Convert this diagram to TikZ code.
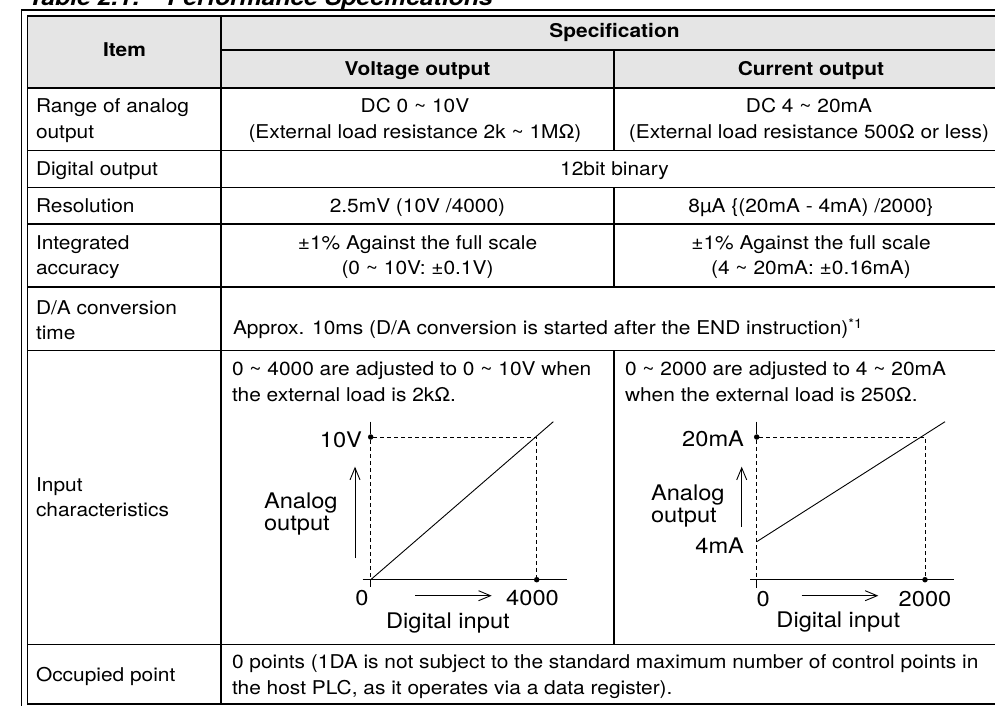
\documentclass[tikz,border=0pt]{standalone}
\usepackage{fontspec}
\setmainfont{TeX Gyre Heros}[FakeStretch=1.1]
\usetikzlibrary{arrows.meta}
\definecolor{headgray}{gray}{0.9}
\begin{document}
\begin{tikzpicture}[x=1pt,y=-1pt,inner sep=0pt,outer sep=0pt,
rule/.style={line width=1.6pt},
frame/.style={line width=1.3pt},
cell/.style={font=\fontsize{19}{25.5}\selectfont,align=center,anchor=base},
itemcell/.style={font=\fontsize{19}{25.5}\selectfont,align=left,anchor=base west},
headcell/.style={font=\fontsize{19}{25.5}\selectfont\bfseries,anchor=base},
plotlabel/.style={font=\fontsize{21.5}{22}\selectfont},
axis/.style={line width=0.9pt},
guide/.style={line width=0.9pt,dash pattern=on 4pt off 3pt},
tick/.style={circle,fill,minimum size=5.5pt},
flow/.style={line width=0.9pt,-{Straight Barb[length=12pt,width=10pt]}}]
\clip (0,0) rectangle (995,705);
\fill[headgray] (27.5,16) rectangle (1007,88);
\draw[frame] (21.5,720) -- (21.5,10) -- (1013,10);
\draw[rule] (27.5,705) -- (27.5,16) -- (1007,16);
\draw[rule] (221,50) -- (1007,50);
\draw[rule] (27.5,88) -- (1007,88);
\draw[rule] (27.5,150.5) -- (1007,150.5);
\draw[rule] (27.5,187.5) -- (1007,187.5);
\draw[rule] (27.5,224) -- (1007,224);
\draw[rule] (27.5,287) -- (1007,287);
\draw[rule] (27.5,350.5) -- (1007,350.5);
\draw[rule] (27.5,644.5) -- (1007,644.5);
\draw[rule] (27.5,704) -- (1007,704);
\draw[rule] (221,16) -- (221,704);
\draw[rule] (614,50) -- (614,150.5);
\draw[rule] (614,187.5) -- (614,287);
\draw[rule] (614,350.5) -- (614,644.5);
\node[anchor=base west,font=\fontsize{22.5}{24}\selectfont\bfseries\itshape] (title) at (28,5) {Table 2.1:\hspace{27pt}Performance Specifications};
\node[headcell] (item) at (124.5,56.7) {Item};
\node[headcell] (spec) at (614.5,37.3) {Specification};
\node[headcell] (volt) at (417.5,75) {Voltage output};
\node[headcell] (curr) at (811,75) {Current output};
\node[itemcell] (range) at (36,138.2) {Range of analog\\output};
\node[cell] (rangev) at (415,138.2) {DC 0 \textasciitilde{} 10V\\(External load resistance 2k \textasciitilde{} 1MΩ)};
\node[cell] (rangec) at (809,138.2) {DC 4 \textasciitilde{} 20mA\\(External load resistance 500Ω or less)};
\node[itemcell] (digout) at (36,175.8) {Digital output};
\node[cell] (digoutv) at (614.5,175.8) {12bit binary};
\node[itemcell] (resol) at (36,212.6) {Resolution};
\node[cell] (resolv) at (417.5,212.6) {2.5mV (10V /4000)};
\node[cell] (resolc) at (811,212.6) {8µA \{(20mA - 4mA) /2000\}};
\node[itemcell] (accur) at (36,274.7) {Integrated\\accuracy};
\node[cell] (accurv) at (417.5,274.7) {±1\% Against the full scale\\(0 \textasciitilde{} 10V: ±0.1V)};
\node[cell] (accurc) at (811,274.7) {±1\% Against the full scale\\(4 \textasciitilde{} 20mA: ±0.16mA)};
\node[itemcell] (conv) at (36,339.5) {D/A conversion\\time};
\node[itemcell] (convv) at (233,334.5) {Approx. 10ms (D/A conversion is started after the END instruction)\textsuperscript{*1}};
\node[itemcell] (inchar) at (36,516.8) {Input\\characteristics};
\node[itemcell] (incharv) at (232,401.4) {0 \textasciitilde{} 4000 are adjusted to 0 \textasciitilde{} 10V when\\the external load is 2kΩ.};
\node[itemcell] (incharc) at (625,401.4) {0 \textasciitilde{} 2000 are adjusted to 4 \textasciitilde{} 20mA\\when the external load is 250Ω.};
\node[itemcell] (occup) at (36,681) {Occupied point};
\node[itemcell] (occupv) at (232,694) {0 points (1DA is not subject to the standard maximum number of control points in\\the host PLC, as it operates via a data register).};
\coordinate (o1) at (370.7,579.7);
\coordinate (ytop1) at (370.7,421.7);
\coordinate (ybot1) at (370.7,586.7);
\coordinate (xl1) at (362.7,579.7);
\coordinate (xr1) at (567.3,579.7);
\coordinate (lineend1) at (553.3,421.7);
\node[tick] (v10) at (370.7,437) {};
\node[tick] (d4000) at (536.7,579.7) {};
\draw[axis] (ytop1) -- (v10);
\draw[guide] (v10) -- (o1);
\draw[axis] (o1) -- (ybot1);
\draw[axis] (xl1) -- (xr1);
\draw[guide] (v10) -| (d4000);
\draw[axis] (o1) -- (lineend1);
\node[plotlabel,anchor=base east] (lab10v) at (362,447.3) {10V};
\coordinate (up1s) at (355,558);
\coordinate (up1e) at (355,466.7);
\draw[flow] (up1s) -- (up1e);
\node[plotlabel,align=left,anchor=base west] (aout1) at (264,530.3) {Analog\\output};
\node[plotlabel,anchor=base] (zero1) at (362,605.7) {0};
\coordinate (rt1s) at (415,595.7);
\coordinate (rt1e) at (491.7,595.7);
\draw[flow] (rt1s) -- (rt1e);
\node[plotlabel,anchor=base] (lab4000) at (532.5,605.7) {4000};
\node[plotlabel,anchor=base] (din1) at (448,628.3) {Digital input};
\coordinate (o2) at (756.7,579.7);
\coordinate (ytop2) at (756.7,421.7);
\coordinate (ybot2) at (756.7,588);
\coordinate (xl2) at (750,579.7);
\coordinate (xr2) at (954,579.7);
\coordinate (ma4) at (756.7,541.7);
\coordinate (lineend2) at (945,421.7);
\node[tick] (ma20) at (756.7,437) {};
\node[tick] (d2000) at (925,579.7) {};
\draw[axis] (ytop2) -- (ma20);
\draw[guide] (ma20) -- (o2);
\draw[axis] (o2) -- (ybot2);
\draw[axis] (xl2) -- (xr2);
\draw[guide] (ma20) -| (d2000);
\draw[axis] (ma4) -- (lineend2);
\node[plotlabel,anchor=base east] (lab20ma) at (744,446.7) {20mA};
\node[plotlabel,anchor=base east] (lab4ma) at (744,553.3) {4mA};
\coordinate (up2s) at (741.7,526.7);
\coordinate (up2e) at (741.7,466.7);
\draw[flow] (up2s) -- (up2e);
\node[plotlabel,align=left,anchor=base west] (aout2) at (651,522.7) {Analog\\output};
\node[plotlabel,anchor=base] (zero2) at (763.3,606.5) {0};
\coordinate (rt2s) at (801.7,595.7);
\coordinate (rt2e) at (878.3,595.7);
\draw[flow] (rt2s) -- (rt2e);
\node[plotlabel,anchor=base] (lab2000) at (925,606) {2000};
\node[plotlabel,anchor=base] (din2) at (838.3,627.7) {Digital input};
\end{tikzpicture}
\end{document}
